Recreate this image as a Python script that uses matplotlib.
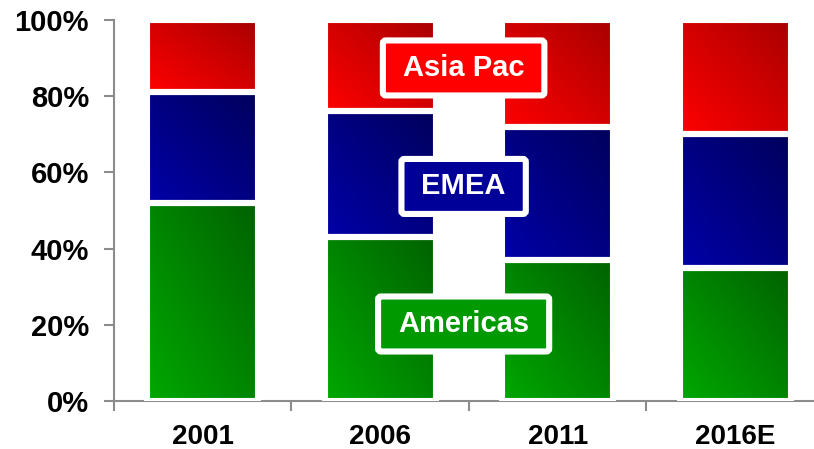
import numpy as np
import matplotlib
matplotlib.use("Agg")
import matplotlib.pyplot as plt
from matplotlib.ticker import FixedLocator
from matplotlib.patches import FancyBboxPatch
from matplotlib.transforms import IdentityTransform

plt.rcParams['font.family'] = ['Liberation Sans', 'DejaVu Sans']
plt.rcParams['font.weight'] = 'bold'

# regional share of revenue, %
years = ["2001", "2006", "2011", "2016E"]
americas = [52, 43, 37, 35]
emea = [29, 33, 35, 35]
asia_pac = [19, 24, 28, 30]

regions = ["Americas", "EMEA", "Asia Pac"]
# (light corner, dark corner) for each region's gradient
shades = {
    "Americas": ((0, 168, 0), (0, 98, 0)),
    "EMEA": ((0, 0, 168), (0, 0, 92)),
    "Asia Pac": ((255, 0, 0), (168, 0, 0)),
}
label_fill = {"Americas": "#009900", "EMEA": "#000099", "Asia Pac": "#ff0000"}
label_pos = {"Americas": (1.47, 20.2), "EMEA": (1.47, 56.3), "Asia Pac": (1.47, 87.4)}

fig = plt.figure(figsize=(8.14, 4.49), dpi=100)
ax = fig.add_axes([0.140, 0.107, 0.8722, 0.8486])


def gradient(c0, c1, n=64):
    # bright at bottom-left, dark at top-right
    u = np.linspace(0, 1, n)
    t = (u[None, :] + u[::-1, None]) / 2.0
    c0 = np.array(c0) / 255.0
    c1 = np.array(c1) / 255.0
    return c0[None, None, :] * (1 - t[..., None]) + c1[None, None, :] * t[..., None]


x = np.arange(len(years))
bottom = np.zeros(len(years))
for name, vals in zip(regions, [americas, emea, asia_pac]):
    bars = ax.bar(x, vals, width=0.625, bottom=bottom, facecolor="none",
                  edgecolor="white", linewidth=4.4, zorder=3)
    img = gradient(*shades[name])
    for b in bars:
        x0, y0 = b.get_x(), b.get_y()
        im = ax.imshow(img, extent=(x0, x0 + b.get_width(), y0, y0 + b.get_height()),
                       aspect="auto", interpolation="bilinear", zorder=2)
        im.set_clip_path(b)
    bottom += np.array(vals)

ax.set_xlim(-0.5, len(years) - 0.5)
ax.set_ylim(0, 100)

labels = []
for name in regions:
    lx, ly = label_pos[name]
    t = ax.text(lx, ly, name, ha="center", va="center", color="white",
                fontsize=21, fontweight="bold", zorder=6)
    labels.append((name, t))

ax.xaxis.set_major_locator(FixedLocator(np.arange(len(years) + 1) - 0.5))
ax.xaxis.set_minor_locator(FixedLocator(x))
ax.set_xticklabels([])
ax.set_xticklabels(years, minor=True)
ax.tick_params(axis="x", which="major", length=7, width=1.5, color="#8c8c8c", direction="out")
ax.tick_params(axis="x", which="minor", length=0, pad=16.5, labelsize=20)

ax.set_yticks(range(0, 101, 20))
ax.set_yticklabels([f"{v}%" for v in range(0, 101, 20)])
ax.tick_params(axis="y", length=7, width=1.5, color="#8c8c8c", pad=11, labelsize=21)

for s in ["top", "right"]:
    ax.spines[s].set_visible(False)
for s in ["left", "bottom"]:
    ax.spines[s].set_color("#8c8c8c")
    ax.spines[s].set_linewidth(1.5)

# white-framed label boxes sized around each text in pixels
fig.canvas.draw()
renderer = fig.canvas.get_renderer()
for name, t in labels:
    bb = t.get_window_extent(renderer)
    pad_x = 20
    pad_y = (55 - bb.height) / 2
    box = FancyBboxPatch((bb.x0 - pad_x, bb.y0 - pad_y), bb.width + 2 * pad_x,
                         bb.height + 2 * pad_y,
                         boxstyle="round,pad=0,rounding_size=3",
                         facecolor=label_fill[name], edgecolor="white",
                         linewidth=4.4, transform=IdentityTransform(),
                         zorder=5, clip_on=False)
    ax.add_patch(box)

fig.savefig("out.png", dpi=100)
